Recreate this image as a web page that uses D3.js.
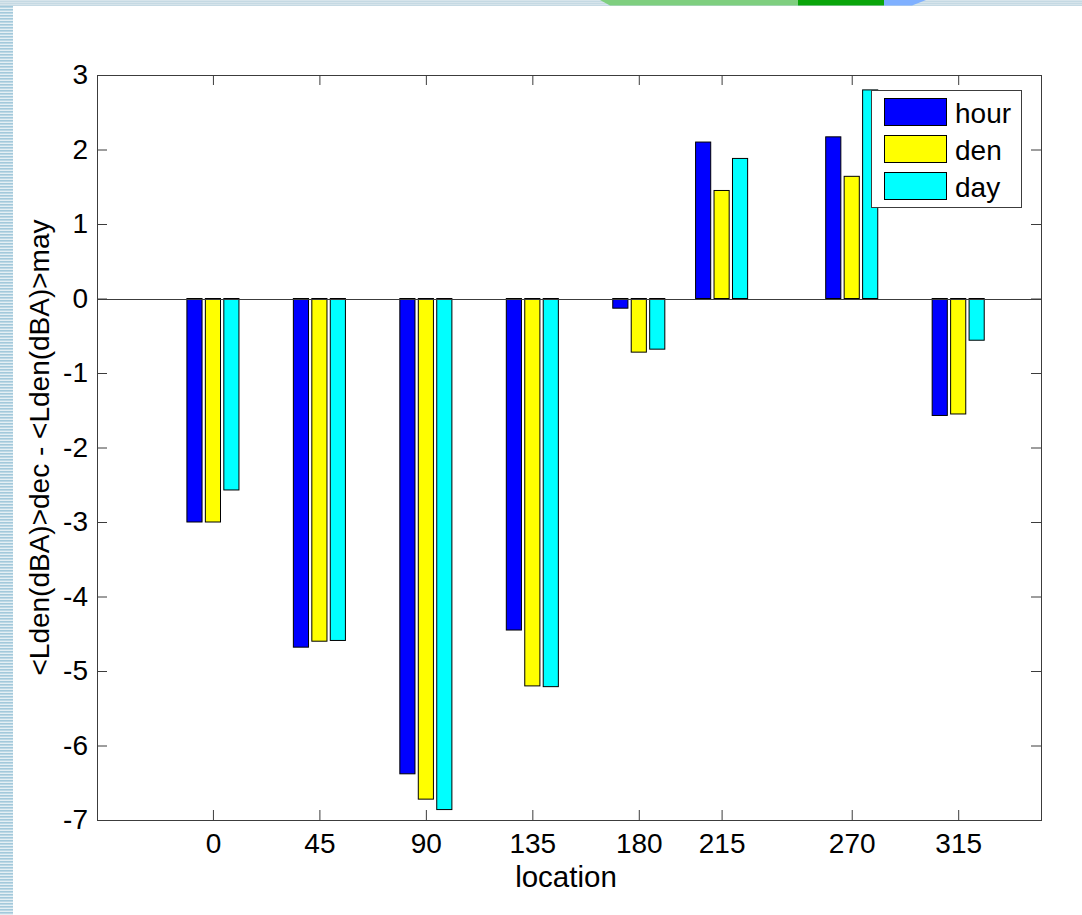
<!DOCTYPE html>
<html>
<head>
<meta charset="utf-8">
<script src="https://cdn.jsdelivr.net/npm/d3@7/dist/d3.min.js"></script>
<style>
    html, body { margin: 0; padding: 0; background: #fff; }
    svg { display: block; }
    text { font-family: "Liberation Sans", Arial, sans-serif; fill: #000; }
</style>
</head>
<body>
<div id="chart"></div>
<script>
// data
var locations = [0, 45, 90, 135, 180, 215, 270, 315];
var hour = [-3.00, -4.68, -6.38, -4.45, -0.13, 2.10, 2.17, -1.57];
var den  = [-3.00, -4.60, -6.72, -5.20, -0.72, 1.45, 1.64, -1.55];
var day  = [-2.57, -4.59, -6.86, -5.21, -0.68, 1.88, 2.80, -0.56];
var seriesNames = ["hour", "den", "day"];
var seriesColors = ["#0000ff", "#ffff00", "#00ffff"];
var yTicks = [3, 2, 1, 0, -1, -2, -3, -4, -5, -6, -7];
var xLabel = "location";
var yLabel = "<Lden(dBA)>dec - <Lden(dBA)>may";

( function(d3) {
    var W = 1082, H = 915;
    var left = 97, right = 1041, top = 75, bottom = 820;
    var fontSize = 28;

    var svg = d3.select("#chart").append("svg")
        .attr("width", W)
        .attr("height", H);

    // slide decoration (stripes at the top and left)
    var defs = svg.append("defs");
    var pat = defs.append("pattern")
        .attr("id", "stripes")
        .attr("width", 14).attr("height", 3)
        .attr("patternUnits", "userSpaceOnUse");
    pat.append("rect").attr("width", 14).attr("height", 3).attr("fill", "#e4eff4");
    pat.append("rect").attr("width", 14).attr("height", 1.6).attr("fill", "#a3c9db");

    svg.append("rect")
        .attr("x", 0).attr("y", 6)
        .attr("width", 13).attr("height", H - 6)
        .attr("fill", "url(#stripes)");

    [0.5, 2.5, 4.5].forEach(function(yy) {
        svg.append("rect")
            .attr("x", 0).attr("y", yy)
            .attr("width", W).attr("height", 1.2)
            .attr("fill", "#adc9d8");
    });
    svg.append("path")
        .attr("d", "M600,0 L798,0 L798,5.5 L610,5.5 Z")
        .attr("fill", "#7fcf7f");
    svg.append("rect")
        .attr("x", 798).attr("y", 0).attr("width", 86).attr("height", 5.5)
        .attr("fill", "#0aa50a");
    svg.append("path")
        .attr("d", "M884,0 L926,0 L912,5.5 L884,5.5 Z")
        .attr("fill", "#7fb0ff");

    // scales
    var x = d3.scaleLinear().domain([-49, 350]).range([left, right]);
    var y = d3.scaleLinear().domain([-7, 3]).range([bottom, top]);

    var groupOffset = 7.8, barWidth = 6.4; // in location units
    var values = [hour, den, day];
    var plainNum = function(d) { return String(d); }; // hyphen minus, like matlab

    // axes box
    svg.append("rect")
        .attr("x", left + 0.5).attr("y", top + 0.5)
        .attr("width", right - left).attr("height", bottom - top)
        .attr("fill", "#fff")
        .attr("stroke", "#3c3c3c")
        .attr("stroke-width", 1);

    // bars
    var bars = svg.append("g").attr("class", "bars");
    values.forEach(function(vals, s) {
        var off = (s - 1) * groupOffset;
        bars.selectAll("rect.s" + s)
            .data(locations.map(function(loc, i) { return { loc: loc, v: vals[i] }; }))
            .enter().append("rect")
            .attr("class", "s" + s)
            .attr("x", function(d) { return x(d.loc + off - barWidth / 2); })
            .attr("width", function(d) { return x(d.loc + off + barWidth / 2) - x(d.loc + off - barWidth / 2); })
            .attr("y", function(d) { return y(Math.max(0, d.v)); })
            .attr("height", function(d) { return Math.abs(y(d.v) - y(0)); })
            .attr("fill", seriesColors[s])
            .attr("stroke", "#000")
            .attr("stroke-width", 1);
    });

    // zero baseline
    svg.append("line")
        .attr("x1", left).attr("x2", right)
        .attr("y1", Math.round(y(0)) + 0.5).attr("y2", Math.round(y(0)) + 0.5)
        .attr("stroke", "#3c3c3c")
        .attr("stroke-width", 1);

    // ticks and labels
    function styleAxis(g) {
        g.select(".domain").remove();
        g.selectAll(".tick line").attr("stroke", "#3c3c3c");
        g.selectAll(".tick text")
            .attr("fill", "#000")
            .style("font-size", fontSize + "px")
            .style("font-family", "\"Liberation Sans\", Arial, sans-serif");
    }

    svg.append("g")
        .attr("transform", "translate(0," + bottom + ")")
        .call(d3.axisBottom(x).tickValues(locations).tickSizeInner(-10).tickSizeOuter(0).tickPadding(13).tickFormat(plainNum))
        .call(styleAxis);

    svg.append("g")
        .attr("transform", "translate(0," + top + ")")
        .call(d3.axisTop(x).tickValues(locations).tickSizeInner(-10).tickSizeOuter(0).tickFormat(""))
        .call(styleAxis);

    svg.append("g")
        .attr("transform", "translate(" + left + ",0)")
        .call(d3.axisLeft(y).tickValues(yTicks).tickSizeInner(-10).tickSizeOuter(0).tickPadding(9).tickFormat(plainNum))
        .call(styleAxis);

    svg.append("g")
        .attr("transform", "translate(" + right + ",0)")
        .call(d3.axisRight(y).tickValues(yTicks).tickSizeInner(-10).tickSizeOuter(0).tickFormat(""))
        .call(styleAxis);

    // axis titles
    svg.append("text")
        .attr("x", 566)
        .attr("y", 887)
        .attr("text-anchor", "middle")
        .style("font-size", "29.5px")
        .text(xLabel);

    svg.append("text")
        .attr("transform", "translate(49," + (top + bottom) / 2 + ") rotate(-90)")
        .attr("text-anchor", "middle")
        .style("font-size", fontSize + "px")
        .text(yLabel);

    // legend
    var legend = svg.append("g").attr("class", "legend");
    legend.append("rect")
        .attr("x", 871.5).attr("y", 90.5)
        .attr("width", 150).attr("height", 117)
        .attr("fill", "#fff")
        .attr("stroke", "#3c3c3c")
        .attr("stroke-width", 1);

    seriesNames.forEach(function(name, i) {
        var sy = 98 + i * 37;
        legend.append("rect")
            .attr("x", 884.5).attr("y", sy + 0.5)
            .attr("width", 62).attr("height", 27)
            .attr("fill", seriesColors[i])
            .attr("stroke", "#000")
            .attr("stroke-width", 1);
        legend.append("text")
            .attr("x", 955)
            .attr("y", sy + 25)
            .style("font-size", fontSize + "px")
            .text(name);
    });
})(d3);
</script>
</body>
</html>
